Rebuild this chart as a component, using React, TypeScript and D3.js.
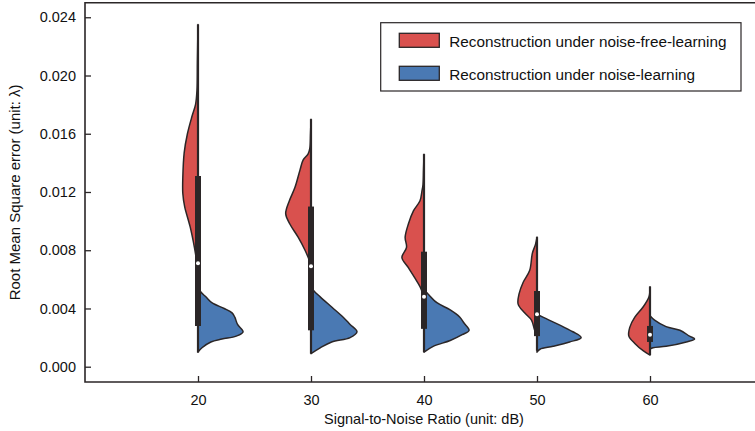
import React, { useEffect, useRef } from "react";
import * as d3 from "d3";

// SNR categories on the x axis
const snrLevels = ["20", "30", "40", "50", "60"];
const yTicks = [0, 0.004, 0.008, 0.012, 0.016, 0.02, 0.024];

const seriesNames = [
  "Reconstruction under noise-free-learning",
  "Reconstruction under noise-learning",
];

// half-violin outlines: [rmse, relative density]
const noiseFreeProfiles: [number, number][][] = [
  [[0.0235, 0], [0.021, 0.013], [0.019, 0.022], [0.018, 0.054], [0.0172, 0.13], [0.016, 0.23], [0.0147, 0.3], [0.013, 0.33], [0.0119, 0.33], [0.011, 0.29], [0.0096, 0.17], [0.0082, 0.078], [0.0072, 0.026], [0.0067, 0]],
  [[0.017, 0], [0.016, 0.011], [0.015, 0.026], [0.0146, 0.065], [0.0142, 0.17], [0.0135, 0.24], [0.0123, 0.35], [0.0114, 0.47], [0.0105, 0.55], [0.0098, 0.46], [0.0089, 0.28], [0.008, 0.13], [0.0073, 0.037], [0.0068, 0]],
  [[0.0146, 0], [0.0135, 0.011], [0.0125, 0.022], [0.0121, 0.043], [0.0114, 0.087], [0.0107, 0.23], [0.0098, 0.34], [0.0089, 0.41], [0.0082, 0.38], [0.0075, 0.48], [0.0068, 0.34], [0.0061, 0.2], [0.0055, 0.087], [0.0048, 0]],
  [[0.0089, 0], [0.0084, 0.033], [0.0078, 0.1], [0.0066, 0.16], [0.0058, 0.3], [0.005, 0.39], [0.0043, 0.41], [0.0037, 0.27], [0.0032, 0.12], [0.0025, 0.05], [0.0021, 0]],
  [[0.0055, 0], [0.0048, 0.022], [0.0041, 0.15], [0.0034, 0.33], [0.0027, 0.44], [0.0021, 0.46], [0.0016, 0.33], [0.0011, 0.15], [0.0008, 0]],
];

const noiseLearningProfiles: [number, number][][] = [
  [[0.0056, 0], [0.0052, 0.043], [0.0048, 0.17], [0.0044, 0.3], [0.004, 0.57], [0.0037, 0.74], [0.0034, 0.8], [0.0029, 0.86], [0.0024, 0.98], [0.0021, 0.83], [0.0019, 0.52], [0.0017, 0.28], [0.0013, 0.087], [0.001, 0]],
  [[0.0055, 0], [0.0052, 0.065], [0.0048, 0.2], [0.0041, 0.45], [0.0034, 0.7], [0.0029, 0.85], [0.0024, 1.0], [0.002, 0.85], [0.0017, 0.45], [0.0013, 0.2], [0.0009, 0]],
  [[0.0053, 0], [0.005, 0.087], [0.0044, 0.28], [0.0039, 0.57], [0.0034, 0.78], [0.003, 0.87], [0.0025, 0.98], [0.0022, 0.83], [0.0018, 0.57], [0.0014, 0.2], [0.001, 0]],
  [[0.0036, 0], [0.0033, 0.2], [0.0028, 0.53], [0.0024, 0.78], [0.002, 0.96], [0.0017, 0.71], [0.0014, 0.35], [0.0012, 0.065], [0.001, 0]],
  [[0.0035, 0], [0.0032, 0.1], [0.00275, 0.35], [0.0025, 0.65], [0.0021, 0.86], [0.0019, 0.97], [0.0017, 0.79], [0.0014, 0.35], [0.0013, 0.065], [0.0012, 0]],
];

// inner box of the pooled data
const whiskerLow = [0.00098, 0.0009, 0.001, 0.0011, 0.0008];
const whiskerHigh = [0.0235, 0.017, 0.0146, 0.0089, 0.0055];
const q1 = [0.0028, 0.0025, 0.0026, 0.0021, 0.0017];
const q3 = [0.0131, 0.011, 0.0079, 0.0052, 0.0028];
const medians = [0.0071, 0.0069, 0.0048, 0.0036, 0.0022];

const W = 755;
const H = 431;
const plot = { left: 85, right: 763, top: 2.7, bottom: 382 };
const ink = "#2b2627";
const colors = ["#d9514e", "#4a79b3"];
const font = "'Liberation Sans', Arial, sans-serif";

export default function App() {
  const svgRef = useRef<SVGSVGElement>(null);

  useEffect(() => {
    const svg = d3.select(svgRef.current);
    svg.selectAll("*").remove();

    const x = d3.scaleLinear().domain([-1, snrLevels.length]).range([plot.left, plot.right]);
    const y = d3.scaleLinear().domain([-0.00105, 0.025]).range([plot.bottom, plot.top]);
    const w = d3.scaleLinear().domain([0, 1]).range([0, 46]);

    // violins
    const g = svg.append("g");
    [noiseFreeProfiles, noiseLearningProfiles].forEach((profiles, s) => {
      const side = s === 0 ? -1 : 1;
      profiles.forEach((prof, i) => {
        const cx = x(i);
        const line = d3
          .line<[number, number]>()
          .x((d) => cx + side * w(d[1]))
          .y((d) => y(d[0]))
          .curve(d3.curveCatmullRom.alpha(0.5));
        g.append("path")
          .attr("d", line(prof) + "Z")
          .attr("fill", colors[s])
          .attr("stroke", ink)
          .attr("stroke-width", 1.5)
          .attr("stroke-linejoin", "round");
      });
    });

    // inner box
    snrLevels.forEach((_, i) => {
      const cx = x(i);
      g.append("line")
        .attr("x1", cx).attr("x2", cx)
        .attr("y1", y(whiskerLow[i])).attr("y2", y(whiskerHigh[i]))
        .attr("stroke", ink).attr("stroke-width", 2.2);
      g.append("line")
        .attr("x1", cx).attr("x2", cx)
        .attr("y1", y(q1[i])).attr("y2", y(q3[i]))
        .attr("stroke", ink).attr("stroke-width", 6);
      g.append("circle")
        .attr("cx", cx).attr("cy", y(medians[i]))
        .attr("r", 2).attr("fill", "white");
    });

    // axes
    const yAxis = svg.append("g")
      .attr("transform", `translate(${plot.left},0)`)
      .call(d3.axisLeft(y).tickValues(yTicks).tickFormat(d3.format(".3f")).tickSizeInner(-6).tickSizeOuter(0).tickPadding(9));
    const xAxis = svg.append("g")
      .attr("transform", `translate(0,${plot.bottom})`)
      .call(d3.axisBottom(x).tickValues(snrLevels.map((_, i) => i)).tickFormat((d) => snrLevels[d as number]).tickSizeInner(-6).tickSizeOuter(0).tickPadding(12.5));
    [yAxis, xAxis].forEach((a) => {
      a.select(".domain").remove();
      a.selectAll("line").attr("stroke", ink).attr("stroke-width", 1.3);
      a.selectAll("text").attr("font-family", font).attr("font-size", 14.5).attr("fill", "#111");
    });

    // frame
    svg.append("path")
      .attr("d", `M${plot.right},${plot.top}H${plot.left}V${plot.bottom}H${plot.right}`)
      .attr("fill", "none").attr("stroke", ink).attr("stroke-width", 1.6);

    // axis titles
    svg.append("text")
      .attr("x", x(2)).attr("y", 424)
      .attr("text-anchor", "middle")
      .attr("font-family", font).attr("font-size", 14.5).attr("fill", "#111")
      .text("Signal-to-Noise Ratio (unit: dB)");
    svg.append("text")
      .attr("transform", `translate(20,${(plot.top + plot.bottom) / 2}) rotate(-90)`)
      .attr("text-anchor", "middle")
      .attr("font-family", font).attr("font-size", 15).attr("fill", "#111")
      .text("Root Mean Square error (unit: λ)");

    // legend
    const lg = svg.append("g");
    lg.append("rect")
      .attr("x", 380.7).attr("y", 22.7).attr("width", 360.3).attr("height", 68.3)
      .attr("fill", "white").attr("stroke", ink).attr("stroke-width", 1.2);
    seriesNames.forEach((name, s) => {
      const top = s === 0 ? 33.3 : 66.3;
      lg.append("rect")
        .attr("x", 399.3).attr("y", top).attr("width", 40).attr("height", 14)
        .attr("fill", colors[s]).attr("stroke", ink).attr("stroke-width", 1.3);
      lg.append("text")
        .attr("x", 449.3).attr("y", top + 13.2)
        .attr("font-family", font).attr("font-size", 15.3).attr("fill", "#111")
        .text(name);
    });
  }, []);

  return (
    <svg
      ref={svgRef}
      width={W}
      height={H}
      style={{ position: "absolute", left: 0, top: 0, background: "white" }}
    />
  );
}
